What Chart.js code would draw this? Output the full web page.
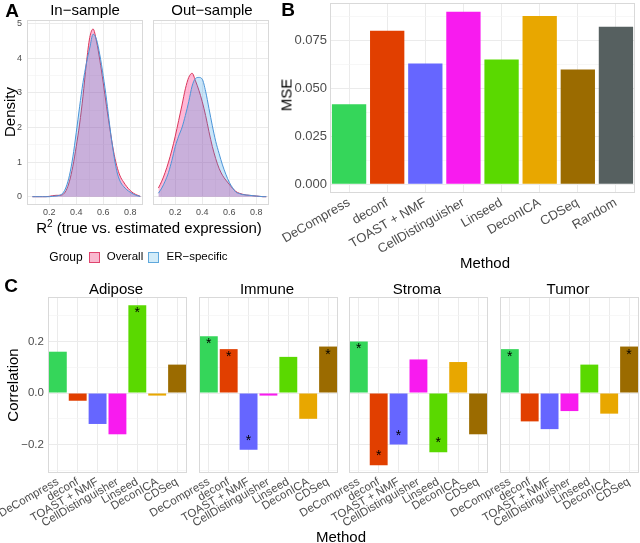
<!DOCTYPE html>
<html>
<head>
<meta charset="utf-8">
<script src="https://cdn.jsdelivr.net/npm/chart.js@4"></script>
<style>
  html, body { margin: 0; padding: 0; background: #fff; }
  body { width: 640px; height: 543px; position: relative; overflow: hidden; font-family: 'Liberation Sans', Arial, sans-serif; }
  canvas { position: absolute; }
  .t { position: absolute; white-space: nowrap; transform: translate(-50%, -50%); color: #000; line-height: 1; }
  .rot { transform: translate(-50%, -50%) rotate(-90deg); }
  .tag { font-weight: bold; font-size: 19px; }
  .key { position: absolute; width: 9px; height: 9px; }
</style>
</head>
<body>
<canvas id="inSample"></canvas>
<canvas id="outSample"></canvas>
<canvas id="mse"></canvas>
<canvas id="corrAdipose"></canvas>
<canvas id="corrImmune"></canvas>
<canvas id="corrStroma"></canvas>
<canvas id="corrTumor"></canvas>

<div class="t tag" style="left:12px;top:10px">A</div>
<div class="t tag" style="left:288px;top:9px">B</div>
<div class="t tag" style="left:11px;top:285px">C</div>

<div class="t" style="left:85px;top:9px;font-size:15px">In−sample</div>
<div class="t" style="left:212px;top:9px;font-size:15px">Out−sample</div>
<div class="t rot" style="left:9px;top:112px;font-size:15px">Density</div>
<div class="t" style="left:149px;top:227px;font-size:15px">R<sup style="font-size:10px">2</sup> (true vs. estimated expression)</div>
<div class="t" style="left:66px;top:257px;font-size:12px">Group</div>
<div class="key" style="left:89px;top:252px;background:#f9b8cf;border:1px solid #e0456f"></div>
<div class="t" style="left:125px;top:257px;font-size:11.5px">Overall</div>
<div class="key" style="left:148px;top:252px;background:#d2ecf9;border:1px solid #5fa8dc"></div>
<div class="t" style="left:197px;top:257px;font-size:11.5px">ER−specific</div>

<div class="t rot" style="left:286px;top:95px;font-size:15px">MSE</div>
<div class="t" style="left:485px;top:262px;font-size:15px">Method</div>

<div class="t" style="left:116px;top:288px;font-size:15px">Adipose</div>
<div class="t" style="left:267px;top:288px;font-size:15px">Immune</div>
<div class="t" style="left:417px;top:288px;font-size:15px">Stroma</div>
<div class="t" style="left:568px;top:288px;font-size:15px">Tumor</div>
<div class="t rot" style="left:12px;top:385px;font-size:15px">Correlation</div>
<div class="t" style="left:341px;top:536px;font-size:15px">Method</div>

<script>
// --- DATA ---
const densityX = [0.075, 0.1, 0.125, 0.15, 0.175, 0.2, 0.225, 0.25, 0.275, 0.3, 0.325, 0.35, 0.375, 0.4, 0.425, 0.45, 0.475,
                  0.5, 0.525, 0.55, 0.575, 0.6, 0.625, 0.65, 0.675, 0.7, 0.725, 0.75, 0.775, 0.8, 0.825, 0.85, 0.875];
const inOverall = [0, 0, 0, 0, 0, 0.01, 0.03, 0.04, 0.04, 0.06, 0.18, 0.45, 0.88, 1.45, 2.1, 2.9, 3.85,
                   4.6, 4.85, 4.5, 3.95, 3.3, 2.6, 1.95, 1.35, 0.9, 0.6, 0.43, 0.29, 0.18, 0.1, 0.05, 0.01];
const inER = [0, 0, 0, 0, 0, 0, 0.01, 0.02, 0.04, 0.1, 0.28, 0.62, 1.15, 1.85, 2.6, 3.3, 3.85,
              4.3, 4.7, 4.55, 4.1, 3.5, 2.8, 2.0, 1.3, 0.75, 0.45, 0.3, 0.2, 0.13, 0.07, 0.03, 0.01];
const outOverall = [0.25, 0.45, 0.7, 1.0, 1.35, 1.75, 2.2, 2.65, 3.12, 3.45, 3.57, 3.35, 3.08, 2.75, 2.35, 1.88, 1.45,
                    1.1, 0.82, 0.62, 0.48, 0.36, 0.24, 0.15, 0.1, 0.07, 0.05, 0.04, 0.03, 0.02, 0.01, 0, 0];
const outER = [0.1, 0.25, 0.45, 0.7, 1.05, 1.45, 1.75, 2.0, 2.35, 2.75, 3.2, 3.42, 3.45, 3.4, 3.05, 2.55, 2.05,
               1.6, 1.25, 0.92, 0.65, 0.42, 0.26, 0.13, 0.09, 0.06, 0.05, 0.04, 0.03, 0.02, 0.01, 0, 0];
const densityXTicks = [0.2, 0.4, 0.6, 0.8];
const densityXMinor = [0.1, 0.3, 0.5, 0.7];
const densityYTicks = [0, 1, 2, 3, 4, 5];
const densityYMinor = [0.5, 1.5, 2.5, 3.5, 4.5];

const methods = ['DeCompress', 'deconf', 'TOAST + NMF', 'CellDistinguisher', 'Linseed', 'DeconICA', 'CDSeq', 'Random'];
const methodColors = ['#35d65a', '#e13f00', '#6666ff', '#f81bef', '#5ad900', '#e8a700', '#9b6b00', '#566060'];
const mseValues = [0.0417, 0.0799, 0.0628, 0.0898, 0.0649, 0.0875, 0.0597, 0.0819];
const mseTicks = [0, 0.025, 0.05, 0.075];
const mseTickLabels = ['0.000', '0.025', '0.050', '0.075'];
const mseMinor = [0.0125, 0.0375, 0.0625, 0.0875];

const corrMethods = methods.slice(0, 7);
const adiposeCorr = [0.16, -0.03, -0.12, -0.16, 0.34, -0.01, 0.11];
const immuneCorr = [0.22, 0.17, -0.22, -0.01, 0.14, -0.10, 0.18];
const stromaCorr = [0.20, -0.28, -0.20, 0.13, -0.23, 0.12, -0.16];
const tumorCorr = [0.17, -0.11, -0.14, -0.07, 0.11, -0.08, 0.18];
const adiposeSig = [0, 0, 0, 0, 1, 0, 0];
const immuneSig = [1, 1, 1, 0, 0, 0, 1];
const stromaSig = [1, 1, 1, 0, 1, 0, 0];
const tumorSig = [1, 0, 0, 0, 0, 0, 1];
const corrTicks = [-0.2, 0, 0.2];
const corrTickLabels = ['−0.2', '0.0', '0.2'];
const corrMinor = [-0.3, -0.1, 0.1, 0.3];

// --- HELPERS ---
Chart.defaults.font.family = "'Liberation Sans', Arial, sans-serif";
Chart.defaults.color = '#4d4d4d';
const PAD = 12;

// size and place a canvas so that its plot area lands on the given box
function place(id, box, yw, xh) {
    const c = document.getElementById(id);
    c.width = box.w + yw + 2 * PAD;
    c.height = box.h + xh + 2 * PAD;
    c.style.left = (box.l - yw - PAD) + 'px';
    c.style.top = (box.t - PAD) + 'px';
    return c;
}

const panelBorder = {
    id: 'panelBorder',
    afterDraw(chart) {
        const { ctx, chartArea: a } = chart;
        ctx.save();
        ctx.strokeStyle = '#d9d9d9';
        ctx.lineWidth = 1;
        ctx.strokeRect(Math.round(a.left) + 0.5, Math.round(a.top) + 0.5, Math.round(a.width) - 1, Math.round(a.height) - 1);
        ctx.restore();
    }
};

function linScale(min, max, major, minor, labels, show, size, pad, fitSize, horizontal) {
    const all = major.concat(minor).sort((a, b) => a - b);
    return {
        type: 'linear', min, max,
        afterBuildTicks: ax => { ax.ticks = all.map(v => ({ value: v })); },
        ticks: {
            display: show, font: { size }, color: '#4d4d4d', padding: pad,
            autoSkip: false, maxRotation: 0, minRotation: 0,
            callback: v => { const i = major.indexOf(v); return i < 0 ? '' : labels[i]; }
        },
        grid: {
            drawTicks: false,
            color: c => (c.tick && major.includes(c.tick.value)) ? '#ebebeb' : '#f4f4f4',
            lineWidth: c => (c.tick && major.includes(c.tick.value)) ? 1 : 0.7
        },
        border: { display: false },
        afterFit: s => { if (horizontal) s.height = fitSize; else s.width = fitSize; }
    };
}

function catScale(labels, size, fitSize) {
    return {
        type: 'category', labels,
        grid: { offset: false, drawTicks: false, color: '#ebebeb' },
        border: { display: false },
        ticks: { autoSkip: false, minRotation: 30, maxRotation: 30, font: { size }, color: '#4d4d4d', padding: 2 },
        afterFit: s => { s.height = fitSize; }
    };
}

const baseOptions = {
    animation: false, responsive: false,
    layout: { padding: PAD },
    plugins: { legend: { display: false }, tooltip: { enabled: false } }
};

// --- PANEL A: densities ---
function densityChart(id, box, overall, er, showY) {
    const yw = 27, xh = 14;
    const canvas = place(id, box, yw, xh);
    const pts = arr => densityX.map((x, i) => ({ x, y: arr[i] }));
    return new Chart(canvas, {
        type: 'line',
        data: {
            datasets: [
                { label: 'Overall', data: pts(overall), order: 2, borderColor: '#d9365a', borderWidth: 1,
                  backgroundColor: 'rgba(255, 0, 110, 0.28)', fill: 'origin', pointRadius: 0, cubicInterpolationMode: 'monotone' },
                { label: 'ER-specific', data: pts(er), order: 1, borderColor: '#4a94d8', borderWidth: 1,
                  backgroundColor: 'rgba(40, 150, 230, 0.25)', fill: 'origin', pointRadius: 0, cubicInterpolationMode: 'monotone' }
            ]
        },
        options: {
            ...baseOptions,
            scales: {
                x: linScale(0.035, 0.895, densityXTicks, densityXMinor, densityXTicks.map(String), true, 9, 2, xh, true),
                y: linScale(-0.24, 5.11, densityYTicks, densityYMinor, densityYTicks.map(String), showY, 9, 5, yw, false)
            }
        },
        plugins: [panelBorder]
    });
}

densityChart('inSample', { l: 27, t: 20, w: 116, h: 185 }, inOverall, inER, true);
densityChart('outSample', { l: 153, t: 20, w: 116, h: 185 }, outOverall, outER, false);

// --- PANEL B: MSE ---
(function () {
    const yw = 40, xh = 60;
    const canvas = place('mse', { l: 330, t: 3, w: 305, h: 190 }, yw, xh);
    new Chart(canvas, {
        type: 'bar',
        data: {
            labels: methods,
            datasets: [{ data: mseValues, backgroundColor: methodColors, barPercentage: 0.9, categoryPercentage: 1 }]
        },
        options: {
            ...baseOptions,
            scales: {
                x: catScale(methods, 13, xh),
                y: linScale(-0.0045, 0.0943, mseTicks, mseMinor, mseTickLabels, true, 13, 3, yw, false)
            }
        },
        plugins: [panelBorder]
    });
})();

// --- PANEL C: correlations ---
function starPlugin(sig) {
    return {
        id: 'stars',
        afterDatasetsDraw(chart) {
            const { ctx } = chart;
            const meta = chart.getDatasetMeta(0);
            const values = chart.data.datasets[0].data;
            ctx.save();
            ctx.fillStyle = '#000';
            ctx.font = "14px 'Liberation Sans', Arial, sans-serif";
            ctx.textAlign = 'center';
            ctx.textBaseline = 'alphabetic';
            meta.data.forEach((bar, i) => {
                if (!sig[i]) return;
                const y = values[i] > 0 ? bar.y + 12 : bar.y - 5;
                ctx.fillText('*', bar.x, y);
            });
            ctx.restore();
        }
    };
}

function corrChart(id, left, values, sig, showY) {
    const yw = 40, xh = 55;
    const canvas = place(id, { l: left, t: 297, w: 141, h: 176 }, yw, xh);
    new Chart(canvas, {
        type: 'bar',
        data: {
            labels: corrMethods,
            datasets: [{ data: values, backgroundColor: methodColors.slice(0, 7), barPercentage: 0.9, categoryPercentage: 1 }]
        },
        options: {
            ...baseOptions,
            scales: {
                x: catScale(corrMethods, 11.5, xh),
                y: linScale(-0.31, 0.372, corrTicks, corrMinor, corrTickLabels, showY, 11.5, 4, yw, false)
            }
        },
        plugins: [panelBorder, starPlugin(sig)]
    });
}

corrChart('corrAdipose', 46, adiposeCorr, adiposeSig, true);
corrChart('corrImmune', 197, immuneCorr, immuneSig, false);
corrChart('corrStroma', 347, stromaCorr, stromaSig, false);
corrChart('corrTumor', 498, tumorCorr, tumorSig, false);
</script>
</body>
</html>
